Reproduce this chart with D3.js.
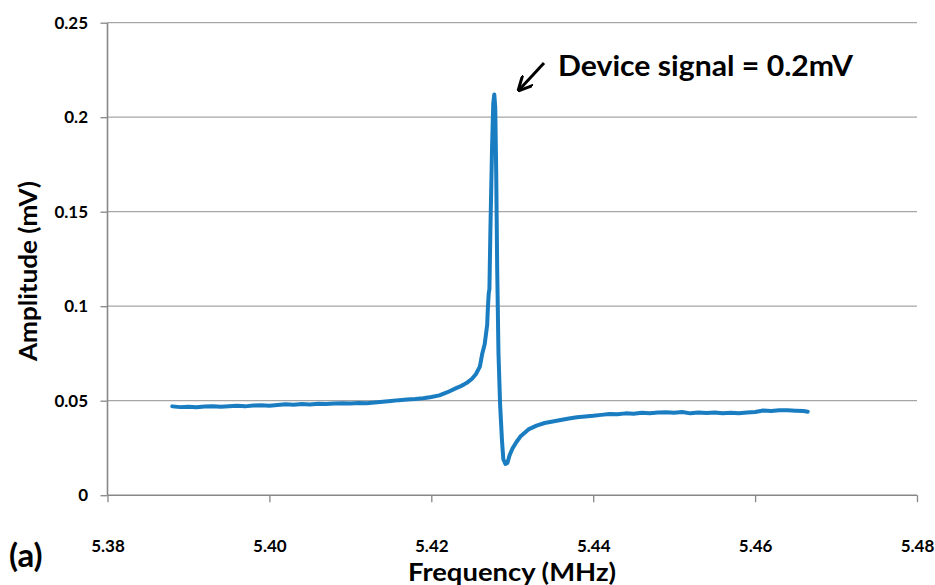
<!DOCTYPE html>
<html>
<head>
<meta charset="utf-8">
<script src="https://cdn.jsdelivr.net/npm/d3@7"></script>
<style>
  body { margin: 0; background: #fff; }
  svg { font-family: Lato, "Open Sans", sans-serif; font-weight: bold; }
</style>
</head>
<body>
<svg width="935" height="585"></svg>
<script>
// frequency (MHz) and amplitude (mV)
var freq = [
  5.388, 5.389, 5.390, 5.391, 5.392, 5.393, 5.394, 5.395, 5.396, 5.397,
  5.398, 5.399, 5.400, 5.401, 5.402, 5.403, 5.404, 5.405, 5.406, 5.407,
  5.408, 5.409, 5.410, 5.411, 5.412, 5.413, 5.414, 5.415, 5.416, 5.417,
  5.418, 5.419, 5.420, 5.421, 5.422, 5.423, 5.4235, 5.424, 5.4245, 5.425,
  5.4255, 5.426, 5.4263, 5.4266, 5.4269, 5.4270, 5.4271, 5.42718, 5.4273, 5.4275,
  5.42765, 5.42778, 5.4279, 5.42802, 5.42814, 5.4283, 5.4285, 5.42873, 5.4289, 5.42916,
  5.4294, 5.42966, 5.4300, 5.4305, 5.4310, 5.4320, 5.433, 5.434, 5.435, 5.436,
  5.437, 5.438, 5.439, 5.440, 5.441, 5.442, 5.443, 5.444, 5.445, 5.446,
  5.447, 5.448, 5.449, 5.450, 5.451, 5.452, 5.453, 5.454, 5.455, 5.456,
  5.457, 5.458, 5.459, 5.460, 5.461, 5.462, 5.463, 5.464, 5.465, 5.466, 5.4665
];
var amp = [
  0.0470, 0.0466, 0.0468, 0.0465, 0.0469, 0.0470, 0.0468, 0.0471, 0.0473, 0.0470,
  0.0474, 0.0476, 0.0473, 0.0477, 0.0481, 0.0479, 0.0482, 0.0480, 0.0484, 0.0483,
  0.0485, 0.0487, 0.0485, 0.0488, 0.0487, 0.0491, 0.0495, 0.0499, 0.0503, 0.0506,
  0.0509, 0.0513, 0.0520, 0.0528, 0.0545, 0.0565, 0.0574, 0.0585, 0.0598, 0.0615,
  0.0640, 0.0680, 0.0750, 0.0800, 0.0900, 0.1000, 0.1070, 0.1090, 0.1400, 0.1830,
  0.2070, 0.2120, 0.2050, 0.1700, 0.1200, 0.0750, 0.0480, 0.0290, 0.0190, 0.0165,
  0.0170, 0.0210, 0.0245, 0.0280, 0.0310, 0.0348, 0.0368, 0.0382, 0.0390, 0.0398,
  0.0406, 0.0412, 0.0416, 0.0420, 0.0425, 0.0430, 0.0428, 0.0433, 0.0431, 0.0436,
  0.0434, 0.0438, 0.0439, 0.0436, 0.0440, 0.0433, 0.0437, 0.0435, 0.0438, 0.0434,
  0.0436, 0.0433, 0.0437, 0.0440, 0.0448, 0.0446, 0.0450, 0.0449, 0.0447, 0.0445, 0.0442
];
var xTicks = [5.38, 5.40, 5.42, 5.44, 5.46, 5.48];
var yTicks = [0, 0.05, 0.1, 0.15, 0.2, 0.25];

var svg = d3.select("svg"),
    plotLeft = 107.5, plotRight = 917, plotTop = 22.7, plotBottom = 495.2;

var x = d3.scaleLinear().domain([5.38, 5.48]).range([plotLeft, plotRight]);
var y = d3.scaleLinear().domain([0, 0.25]).range([plotBottom, plotTop]);

// horizontal gridlines
svg.append("g")
   .selectAll("line")
   .data(yTicks.filter(function(d) { return d > 0; }))
   .enter()
   .append("line")
   .attr("x1", plotLeft).attr("x2", plotRight)
   .attr("y1", function(d) { return y(d); })
   .attr("y2", function(d) { return y(d); })
   .attr("stroke", "#a6a6a6")
   .attr("stroke-width", 1.3);

// y axis
var yAxis = svg.append("g")
   .attr("transform", "translate(" + plotLeft + ",0)")
   .call(d3.axisLeft(y).tickValues(yTicks).tickSize(7).tickPadding(12.5)
         .tickFormat(function(d) { return d3.format("")(d); }));

// x axis
var xAxis = svg.append("g")
   .attr("transform", "translate(0," + plotBottom + ")")
   .call(d3.axisBottom(x).tickValues(xTicks).tickSize(7).tickPadding(38)
         .tickFormat(d3.format(".2f")));

[yAxis, xAxis].forEach(function(a) {
  a.select(".domain").attr("stroke", "#878787").attr("stroke-width", 1.6);
  a.selectAll(".tick line").attr("stroke", "#878787").attr("stroke-width", 1.3);
  a.selectAll(".tick text")
   .attr("fill", "#000")
   .style("font-family", "Lato, sans-serif")
   .style("font-weight", "bold")
   .style("font-size", "17px");
});
yAxis.select(".domain").attr("d", "M0," + plotTop + "V" + plotBottom);
xAxis.select(".domain").attr("d", "M" + plotLeft + ",0H" + plotRight);

// signal line
var line = d3.line()
   .x(function(d, i) { return x(freq[i]); })
   .y(function(d) { return y(d); });

svg.append("path")
   .datum(amp)
   .attr("d", line)
   .attr("fill", "none")
   .attr("stroke", "#1a7dc1")
   .attr("stroke-width", 4)
   .attr("stroke-linejoin", "round")
   .attr("stroke-linecap", "round");

// axis titles
svg.append("text")
   .attr("transform", "translate(37,271) rotate(-90)")
   .attr("text-anchor", "middle")
   .attr("textLength", 180)
   .attr("lengthAdjust", "spacingAndGlyphs")
   .style("font-size", "25px")
   .text("Amplitude (mV)");

svg.append("text")
   .attr("x", 512).attr("y", 581)
   .attr("text-anchor", "middle")
   .attr("textLength", 208)
   .attr("lengthAdjust", "spacingAndGlyphs")
   .style("font-size", "24px")
   .text("Frequency (MHz)");

svg.append("text")
   .attr("x", 9).attr("y", 567)
   .style("font-size", "33px")
   .text("(a)");

// annotation
svg.append("defs").append("marker")
   .attr("id", "head")
   .attr("viewBox", "0 0 10 10")
   .attr("refX", 9).attr("refY", 5)
   .attr("markerWidth", 5).attr("markerHeight", 5)
   .attr("orient", "auto")
   .append("path")
   .attr("d", "M0,0L10,5L0,10")
   .attr("fill", "none")
   .attr("stroke", "#000")
   .attr("stroke-width", 2);

svg.append("line")
   .attr("x1", 544).attr("y1", 63)
   .attr("x2", 519).attr("y2", 90)
   .attr("stroke", "#000")
   .attr("stroke-width", 3)
   .attr("marker-end", "url(#head)");

svg.append("text")
   .attr("x", 558).attr("y", 76)
   .attr("textLength", 295)
   .attr("lengthAdjust", "spacingAndGlyphs")
   .style("font-size", "29px")
   .text("Device signal = 0.2mV");
</script>
</body>
</html>
